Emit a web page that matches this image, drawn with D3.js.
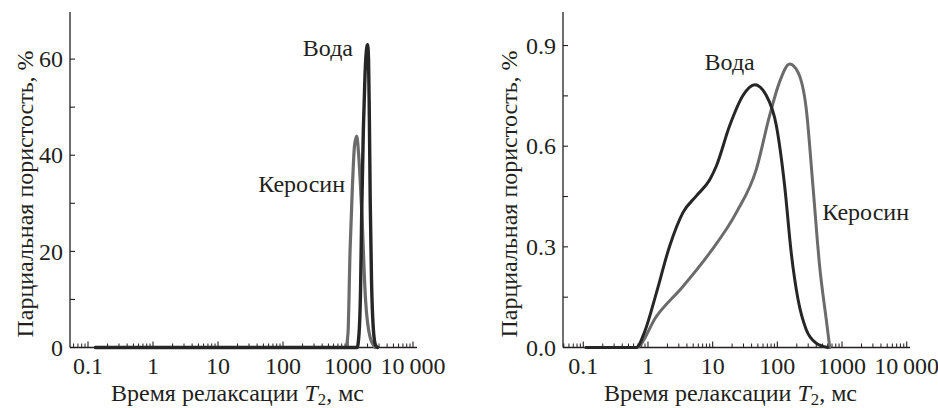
<html>
<head>
<style>
  body { margin: 0; background: #fff; }
</style>
</head>
<body>
<script src="https://d3js.org/d3.v7.min.js"></script>
<script>

// ---- data (T2 in ms, partial porosity in %) ----
var majorTicks = [0.1, 1, 10, 100, 1000, 10000];
var majorLabels = ["0.1", "1", "10", "100", "1000", "10\u2009000"];

// left panel
var leftWaterT2 = [0.13, 1380, 1480, 1560, 1625, 1720, 1830, 1950, 2000, 2070, 2130, 2200, 2300, 2450, 2650, 2850];
var leftWaterP  = [0,    0,    3,    12,   28,   45,   57,   62.5, 63,   60,   48,   30,   14,   4,    0.5,  0];
var leftKeroT2  = [0.13, 930, 1000, 1075, 1165, 1260, 1360, 1460, 1630, 1860, 2200, 2630];
var leftKeroP   = [0,    0,   3,    20,   33,   42,   44,   40,   28,   10,   2,    0];
var leftYTicks = [0, 20, 40, 60];
var leftYMinor = [10, 30, 50];

// right panel
var rightWaterT2 = [0.11, 0.66, 0.9,  1.35,  2.16,  3.47,  5.6,   9.0,  11.4,  18.3,  29.4,  44.6,  67.6,  96.6,  129.7, 164,   209,   280,   398,   603];
var rightWaterP  = [0,    0,    0.05, 0.163, 0.302, 0.402, 0.452, 0.50, 0.541, 0.661, 0.751, 0.783, 0.751, 0.661, 0.482, 0.282, 0.143, 0.053, 0.013, 0];
var rightKeroT2  = [0.11, 0.66, 1.35,  3.47,  9.0,   23.2,  47.3,  75.9,  108,   155,   209,  280,   355,   451,   571,   646];
var rightKeroP   = [0,    0,    0.093, 0.182, 0.282, 0.402, 0.531, 0.691, 0.791, 0.845, 0.82, 0.711, 0.482, 0.242, 0.083, 0];
var rightYTicks = [0, 0.3, 0.6, 0.9];
var rightYMinor = [0.15, 0.45, 0.75];

var W = 938, H = 408;
var svg = d3.select("body").append("svg").attr("width", W).attr("height", H);

var fs = 24, ink = "#231f20";

function txt(sel) {
    return sel.style("font-family", "Liberation Serif", "important")
        .style("font-size", fs + "px").style("fill", ink);
}

function minorX(domain) {
    var out = [];
    for (var e = -2; e <= 4; e++) {
        for (var k = 2; k <= 9; k++) {
            var v = k * Math.pow(10, e);
            if (v > domain[0] && v < domain[1]) out.push(v);
        }
    }
    return out;
}

function panel(o) {
    // log x scale anchored at 0.1 and 10000, then stretched to the axis ends
    var x = d3.scaleLog().domain([0.1, 10000]).range([o.x01, o.x10k]);
    x.domain([x.invert(o.left), x.invert(o.right)]).range([o.left, o.right]);
    var y = d3.scaleLinear().domain(o.yDomain).range([o.bottom, o.top]);

    var g = svg.append("g");

    // x axis
    var ax = g.append("g").attr("transform", "translate(0," + o.bottom + ")");
    ax.append("line").attr("x1", o.left).attr("x2", o.right).attr("stroke", ink).attr("stroke-width", 1.3);
    ax.selectAll(".mj").data(majorTicks).enter().append("line")
        .attr("x1", function(d) { return x(d); }).attr("x2", function(d) { return x(d); })
        .attr("y1", 0).attr("y2", -6).attr("stroke", ink).attr("stroke-width", 1.1);
    ax.selectAll(".mn").data(minorX(x.domain())).enter().append("line")
        .attr("x1", function(d) { return x(d); }).attr("x2", function(d) { return x(d); })
        .attr("y1", 0).attr("y2", -4).attr("stroke", ink).attr("stroke-width", 1);
    txt(ax.selectAll(".lb").data(majorTicks).enter().append("text"))
        .attr("x", function(d) { return x(d); }).attr("y", 26)
        .attr("text-anchor", "middle")
        .text(function(d, i) { return majorLabels[i]; });

    // y axis
    var ay = g.append("g").attr("transform", "translate(" + o.left + ",0)");
    ay.append("line").attr("y1", o.bottom).attr("y2", o.top).attr("stroke", ink).attr("stroke-width", 1.3);
    ay.selectAll(".mj").data(o.yTicks.concat(o.yMinor)).enter().append("line")
        .attr("y1", function(d) { return y(d); }).attr("y2", function(d) { return y(d); })
        .attr("x1", 0).attr("x2", 5).attr("stroke", ink).attr("stroke-width", 1.1);
    txt(ay.selectAll(".lb").data(o.yTicks).enter().append("text"))
        .attr("x", -7).attr("y", function(d) { return y(d); }).attr("dy", "0.34em")
        .attr("text-anchor", "end")
        .text(function(d) { return o.yFmt(d); });

    // axis titles
    var xt = txt(g.append("text")).attr("x", (o.left + o.right) / 2 - 6).attr("y", 401)
        .attr("text-anchor", "middle");
    xt.append("tspan").text("Время релаксации ");
    xt.append("tspan").style("font-style", "italic").text("T");
    xt.append("tspan").attr("dy", 4).style("font-size", (fs * 0.7) + "px").text("2");
    xt.append("tspan").attr("dy", -4).text(", мс");

    txt(g.append("text")).attr("transform", "translate(" + o.yLabX + ",194) rotate(-90)")
        .attr("text-anchor", "middle")
        .text("Парциальная пористость, %");

    // curves
    var line = d3.line().curve(d3.curveMonotoneX)
        .x(function(d) { return x(d[0]); }).y(function(d) { return y(d[1]); });
    o.series.forEach(function(s) {
        g.append("path").datum(d3.zip(s.t2, s.p)).attr("d", line)
            .attr("fill", "none").attr("stroke", s.color).attr("stroke-width", s.w)
            .attr("stroke-linejoin", "round").attr("stroke-linecap", "round");
    });

    // curve labels
    o.labels.forEach(function(l) {
        txt(g.append("text")).attr("x", x(l.t2)).attr("y", y(l.p))
            .attr("text-anchor", l.anchor).text(l.text);
    });
}

panel({
    left: 70, right: 417, x01: 88, x10k: 413, top: 12, bottom: 347.5,
    yDomain: [0, 69.8], yTicks: leftYTicks, yMinor: leftYMinor,
    yFmt: function(d) { return d; }, yLabX: 33,
    series: [
        { t2: leftKeroT2, p: leftKeroP, color: "#6b6b6b", w: 3.2 },
        { t2: leftWaterT2, p: leftWaterP, color: "#262626", w: 3.4 }
    ],
    labels: [
        { text: "Вода", t2: 1195, p: 60.6, anchor: "end" },
        { text: "Керосин", t2: 900, p: 32.4, anchor: "end" }
    ]
});

panel({
    left: 563, right: 910, x01: 583.3, x10k: 906.7, top: 12, bottom: 347.5,
    yDomain: [0, 1.0], yTicks: rightYTicks, yMinor: rightYMinor,
    yFmt: d3.format(".1f"), yLabX: 517,
    series: [
        { t2: rightKeroT2, p: rightKeroP, color: "#6b6b6b", w: 3 },
        { t2: rightWaterT2, p: rightWaterP, color: "#262626", w: 3 }
    ],
    labels: [
        { text: "Вода", t2: 7.5, p: 0.8286, anchor: "start" },
        { text: "Керосин", t2: 496, p: 0.379, anchor: "start" }
    ]
});

</script>
</body>
</html>
